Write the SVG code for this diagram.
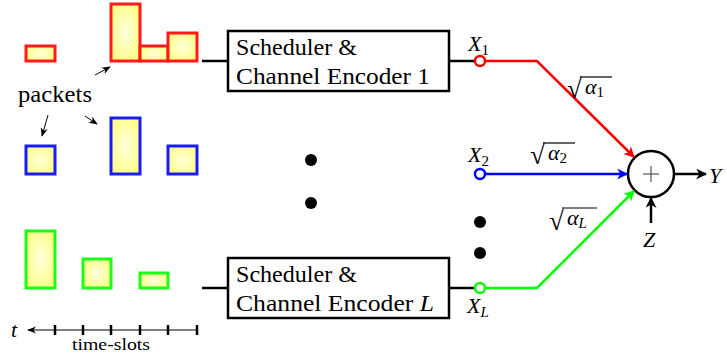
<svg xmlns="http://www.w3.org/2000/svg" width="727" height="353" viewBox="0 0 727 353">
<defs>
<radialGradient id="yg" cx="0.5" cy="0.5" r="0.6">
<stop offset="0" stop-color="#ffffe0"/>
<stop offset="1" stop-color="#ffff80"/>
</radialGradient>
<marker id="ahk" viewBox="0 0 10 10" refX="9" refY="5" markerWidth="9" markerHeight="9" markerUnits="userSpaceOnUse" orient="auto">
<path d="M0,1 L10,5 L0,9 L3,5 Z" fill="#000"/>
</marker>
<marker id="ahr" viewBox="0 0 10 10" refX="9" refY="5" markerWidth="11" markerHeight="11" markerUnits="userSpaceOnUse" orient="auto">
<path d="M0,0 L10,5 L0,10 L3,5 Z" fill="#ff0000"/>
</marker>
<marker id="ahb" viewBox="0 0 10 10" refX="9" refY="5" markerWidth="11" markerHeight="11" markerUnits="userSpaceOnUse" orient="auto">
<path d="M0,0 L10,5 L0,10 L3,5 Z" fill="#0000ff"/>
</marker>
<marker id="ahg" viewBox="0 0 10 10" refX="9" refY="5" markerWidth="11" markerHeight="11" markerUnits="userSpaceOnUse" orient="auto">
<path d="M0,0 L10,5 L0,10 L3,5 Z" fill="#00ff00"/>
</marker>
<marker id="ahblk" viewBox="0 0 10 10" refX="9" refY="5" markerWidth="11" markerHeight="11" markerUnits="userSpaceOnUse" orient="auto">
<path d="M0,0 L10,5 L0,10 L3,5 Z" fill="#000"/>
</marker>
</defs>
<style>
.pr{fill:url(#yg);stroke:#ff1a1a;stroke-width:3}
.pb{fill:url(#yg);stroke:#1a1aff;stroke-width:3}
.pg{fill:url(#yg);stroke:#1aff1a;stroke-width:3}
.box{fill:#fff;stroke:#000;stroke-width:2.5}
.ln{fill:none;stroke:#000;stroke-width:2.5}
.t{font-size:23px}
.m{font-style:italic;font-size:22px}
.s{font-size:15px;font-style:normal}
.si{font-size:15px;font-style:italic}
.r{font-size:27px}
.dot{fill:#000}
</style>
<g font-family="Liberation Serif, DejaVu Serif, serif" fill="#000">
<g id="packets-red">
<rect class="pr" x="26" y="46" width="29" height="15"/>
<rect class="pr" x="111" y="4" width="29" height="57"/>
<rect class="pr" x="140" y="46" width="28" height="15"/>
<rect class="pr" x="168" y="33" width="29" height="28"/>
</g>
<g id="packets-blue">
<rect class="pb" x="26" y="146" width="29" height="28"/>
<rect class="pb" x="111" y="118" width="29" height="56"/>
<rect class="pb" x="168" y="146" width="29" height="28"/>
</g>
<g id="packets-green">
<rect class="pg" x="26" y="231" width="29" height="57"/>
<rect class="pg" x="83" y="259" width="28" height="29"/>
<rect class="pg" x="140" y="273" width="28" height="15"/>
</g>
<g id="packets-label">
<text class="t" x="18" y="102" textLength="74" lengthAdjust="spacingAndGlyphs">packets</text>
</g>
<g id="timeaxis">
<line x1="197" y1="330" x2="28" y2="330" stroke="#000" stroke-width="1.2" marker-end="url(#ahk)"/>
<g stroke="#000" stroke-width="2.5">
<line x1="55" y1="325" x2="55" y2="335"/>
<line x1="83" y1="325" x2="83" y2="335"/>
<line x1="111" y1="325" x2="111" y2="335"/>
<line x1="140" y1="325" x2="140" y2="335"/>
<line x1="168" y1="325" x2="168" y2="335"/>
<line x1="197" y1="325" x2="197" y2="335"/>
</g>
<text class="m" x="14" y="337" text-anchor="middle">t</text>
<text x="72" y="350" font-size="16" textLength="78" lengthAdjust="spacingAndGlyphs">time-slots</text>
</g>
<g id="enc1">
<rect class="box" x="228" y="31" width="221" height="60"/>
<text class="t" x="236" y="55" textLength="121" lengthAdjust="spacingAndGlyphs">Scheduler &amp;</text>
<text class="t" x="236" y="84" textLength="194" lengthAdjust="spacingAndGlyphs">Channel Encoder 1</text>
</g>
<g id="encL">
<rect class="box" x="228" y="258" width="221" height="60"/>
<text class="t" x="236" y="282" textLength="121" lengthAdjust="spacingAndGlyphs">Scheduler &amp;</text>
<text class="t" x="236" y="311" textLength="198" lengthAdjust="spacingAndGlyphs">Channel Encoder <tspan font-style="italic">L</tspan></text>
</g>
<g id="dots">
<circle class="dot" cx="311" cy="160" r="6"/>
<circle class="dot" cx="311" cy="203" r="6"/>
<circle class="dot" cx="480" cy="222" r="6"/>
<circle class="dot" cx="480" cy="253" r="6"/>
</g>
<g id="sum">
<circle cx="651" cy="174" r="23" fill="#fff" stroke="#000" stroke-width="2.5"/>
<line x1="643" y1="174" x2="659" y2="174" stroke="#555" stroke-width="1.2"/>
<line x1="651" y1="166" x2="651" y2="182" stroke="#555" stroke-width="1.2"/>
</g>
<g id="connectors">
<line class="ln" x1="202" y1="61" x2="228" y2="61"/>
<line class="ln" x1="449" y1="61" x2="478" y2="61"/>
<line class="ln" x1="202" y1="288" x2="228" y2="288"/>
<line class="ln" x1="449" y1="288" x2="478" y2="288"/>
<line x1="95" y1="75" x2="110" y2="67" stroke="#000" stroke-width="1" marker-end="url(#ahk)"/>
<line x1="48" y1="115" x2="42" y2="136" stroke="#000" stroke-width="1" marker-end="url(#ahk)"/>
<line x1="85" y1="116" x2="97" y2="124" stroke="#000" stroke-width="1" marker-end="url(#ahk)"/>
<polyline points="485,61 537,61 634,157" fill="none" stroke="#ff0000" stroke-width="2.5" marker-end="url(#ahr)"/>
<line x1="485" y1="174" x2="627" y2="174" stroke="#0000ff" stroke-width="2.5" marker-end="url(#ahb)"/>
<polyline points="485,288 537,288 634,191" fill="none" stroke="#00ff00" stroke-width="2.5" marker-end="url(#ahg)"/>
<line x1="674" y1="174" x2="706" y2="174" stroke="#000" stroke-width="2.5" marker-end="url(#ahblk)"/>
<line x1="651" y1="223" x2="651" y2="198" stroke="#000" stroke-width="2.5" marker-end="url(#ahblk)"/>
<circle cx="480" cy="61" r="5" fill="#fff" stroke="#ff0000" stroke-width="2.5"/>
<circle cx="480" cy="174" r="5" fill="#fff" stroke="#0000ff" stroke-width="2.5"/>
<circle cx="480" cy="288" r="5" fill="#fff" stroke="#00ff00" stroke-width="2.5"/>
</g>
<g id="labels">
<text class="m" x="468" y="51">X<tspan class="s" dy="4">1</tspan></text>
<text class="m" x="468" y="162">X<tspan class="s" dy="4">2</tspan></text>
<text class="m" x="467" y="313">X<tspan class="si" dy="4">L</tspan></text>
<text class="m" x="709" y="183">Y</text>
<text class="m" x="643" y="247">Z</text>
<text class="r" x="567" y="98">√</text>
<line x1="580" y1="77" x2="612" y2="77" stroke="#000" stroke-width="1.2"/>
<text class="m" x="585" y="94">α<tspan class="s" dy="3">1</tspan></text>
<text class="r" x="530" y="164">√</text>
<line x1="543" y1="143" x2="575" y2="143" stroke="#000" stroke-width="1.2"/>
<text class="m" x="548" y="160">α<tspan class="s" dy="3">2</tspan></text>
<text class="r" x="549" y="230">√</text>
<line x1="562" y1="208" x2="597" y2="208" stroke="#000" stroke-width="1.2"/>
<text class="m" x="567" y="225">α<tspan class="si" dy="3">L</tspan></text>
</g>
</g>
</svg>
